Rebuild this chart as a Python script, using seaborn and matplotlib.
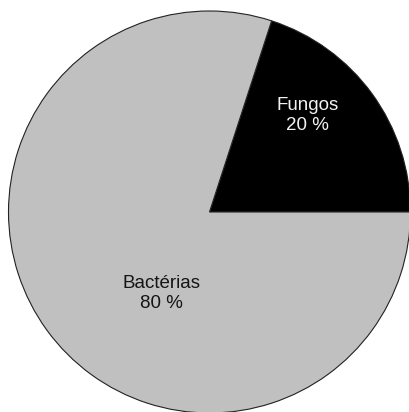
import matplotlib
matplotlib.use("Agg")
import matplotlib.pyplot as plt
import seaborn as sns

categories = ["Fungos", "Bactérias"]
values = [20, 80]
pct_labels = ["20 %", "80 %"]
colors = ["#000000", "#c0c0c0"]
text_colors = ["#f2f2f2", "#151515"]

sns.set_theme(style="white")
plt.rcParams['font.family'] = ['Liberation Sans', 'DejaVu Sans']

W, H = 409, 412
fig = plt.figure(figsize=(W / 100, H / 100), dpi=100)
cx, cy, r = 209.5, 212, 201
ax = fig.add_axes([(cx - r) / W, (H - cy - r) / H, 2 * r / W, 2 * r / H])

ax.pie(values, colors=colors, startangle=0, counterclock=True,
       wedgeprops=dict(edgecolor="#222222", linewidth=0.8))
ax.set_xlim(-1, 1)
ax.set_ylim(-1, 1)
ax.set_aspect("equal")

label_pos = [(0.488, 0.48), (-0.238, -0.405)]
for cat, pct, (x, y), tc in zip(categories, pct_labels, label_pos, text_colors):
    ax.text(x, y, f"{cat}\n{pct}", ha="center", va="center", fontsize=13.5,
            color=tc, linespacing=1.2)

fig.savefig("out.png", dpi=100)
